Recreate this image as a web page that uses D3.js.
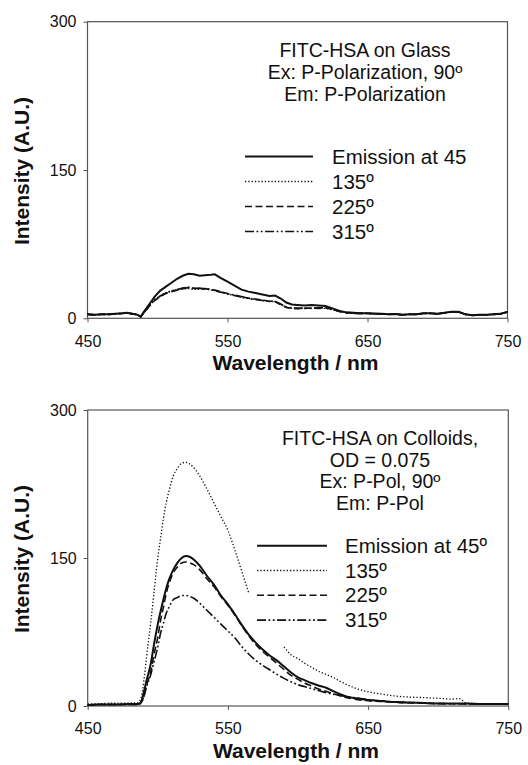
<!DOCTYPE html>
<html>
<head>
<meta charset="utf-8">
<script src="https://cdn.jsdelivr.net/npm/d3@7"></script>
<style>
  body { margin: 0; background: #fff; }
  text { font-family: "Liberation Sans", Arial, sans-serif; fill: #111; }
</style>
</head>
<body>
<svg id="chart" width="528" height="765"></svg>
<script>
// ---- data ----
let xTicks = [450, 550, 650, 750]
let yTicks = [0, 150, 300]

// top panel: FITC-HSA on glass
let glassWl = [450,455,460,465,470,475,478,482,486,488, 490,494,498,502,506,510,514,518,522,526,
  530,534,538,541,545,550,555,560,565,570, 575,580,584,588,592,596,600,605,610,615,
  620,625,630,635,640,645,650,655,660,665, 670,675,680,685,690,695,700,705,710,715,
  720,725,730,735,740,745,750]
let glass45 = [4,3.5,4,4,4.5,5,5.5,4.5,3.5,1.5, 6,14,22,28,32,36,40,43,45,44.5,
  43,43.5,44,44.5,41,37,33,29,27,25.5, 24,22.5,23,20,16,14,13.5,13,13.5,13,
  12.5,10,7.5,6,5.5,5,5.2,4.8,4.5,4, 4.3,3.5,4,4,5,5,4.5,5.5,6.5,6.5,
  4,3,3.5,3.5,4,4.5,6.5]
let glass135 = [4,3.5,4,4,4.5,5,5.5,4.5,3.5,1.5, 5.5,13,19,23,26,28,29,29.5,30,29,
  29.5,30,28.5,28,26.5,24.5,23,21,20,19, 18,17.5,16.5,13.5,11,10,9.5,10,10,10.5,
  10,8.5,7,5.5,5,5,5,4.5,4.5,4, 4.3,3.5,4,4,5,5,4.5,5.5,6.5,6.5,
  4,3,3.5,3.5,4,4.5,6.5]
let glass225 = [4,3.5,4,4,4.5,5,5.5,4.5,3.5,1.5, 5,12,18,22,25,27,28.5,30,31,30.5,
  30,30,29,28.5,27,25,23,21.5,20.5,19.5, 18.5,17,17,14,11,10,10,10,10.5,10,
  10.5,9,7,5.5,5,5,5,4.5,4.5,4, 4.3,3.5,4,4,5,5,4.5,5.5,6.5,6.5,
  4,3,3.5,3.5,4,4.5,6.5]
let glass315 = [4,3.5,4,4,4.5,5,5.5,4.5,3.5,1.5, 5,12.5,18.5,22.5,25.5,27.5,29,30.5,31.5,30,
  30.5,29.5,29.5,28,26.5,25,23.5,22,20,19, 18,17.5,17,14.5,11.5,10.5,10,10.5,10,10.5,
  11,9,7,5.5,5,5,5,4.5,4.5,4, 4.3,3.5,4,4,5,5,4.5,5.5,6.5,6.5,
  4,3,3.5,3.5,4,4.5,6.5]

// bottom panel: FITC-HSA on colloids
let colWl = [450,460,470,480,486,488,490,492,495,497, 500,502,504,506,508,511,514,517,520,523,
  526,530,535,540,545,550,555,560,565,570, 575,580,585,590,595,600,605,610,615,620,
  625,630,635,640,650,660,670,680,690,700, 710,715,720,730,740,750]
let col45 = [1,1.5,1.5,2,2,4,14,26,43,60, 83,96,108,119,128,138,145,150,152,151,
  148,142,132,123,112,103,93,82,72,64, 57,51,46,40,34,29,26,23,20.5,18.5,
  15,12,9.5,8,6,5,4,3.5,3,2.5, 2.5,2.5,2.5,2,2,2]
let col135 = [2,2.5,3,3,3.5,8,25,50,85,111, 150,170,190,206,218,233,241,246,247,245,
  241,233,220,206,192,178,158,136,114,null, null,null,null,60,52,48,43,39,35,32,
  29,25,21.5,18.5,14.5,12,10,9,8.5,7.8, 7,7.5,3,2.5,2.5,2.5]
let col225 = [1,1.5,1.5,1.5,1.5,3,10,21,35,50, 70,87,100,114,124,135,141,145,146,145,
  143,138,129,121,111,102,92,81,71,62, 55,49,43,37,31,27,23,20,17,15,
  12.5,10.5,8.5,7,5.4,4.5,3.8,3.2,2.8,2.5, 2.3,2.3,2.2,2,2,2]
let col315 = [1,1.5,1.5,1.5,1.5,3,9,19.6,32,43, 60,74,84,94,100,107.7,110,112,112,111,
  109,104,97,90,83,76,69,60,52.5,46, 41,36.5,32,28,24.5,21.5,19.5,17.5,15.5,13.5,
  12,10.5,9.5,8.5,6.5,5,4,3.5,3,2.5, 2.3,2.3,2.2,2,2,2]

let glassNotes = ["FITC-HSA on Glass", "Ex: P-Polarization, 90\u00ba", "Em: P-Polarization"]
let colNotes = ["FITC-HSA on Colloids,", "OD = 0.075", "Ex: P-Pol, 90\u00ba", "Em: P-Pol"]
let glassLabels = ["Emission at 45", "135\u00ba", "225\u00ba", "315\u00ba"]
let colLabels = ["Emission at 45\u00ba", "135\u00ba", "225\u00ba", "315\u00ba"]

// line styles for the 4 series (45, 135, 225, 315)
let styles = [
  { dash: null, w: 2 },
  { dash: "1.3,2", w: 1.3 },
  { dash: "7,3.5", w: 1.6 },
  { dash: "9,2.5,1.8,2.5,1.8,2.5", w: 1.6 }
]

let svg = d3.select("#chart")

let drawPanel = (p) => {
  let x = d3.scaleLinear().domain([450, 750]).range([p.left, p.right])
  let y = d3.scaleLinear().domain([0, 300]).range([p.bottom, p.top])

  let g = svg.append("g")

  // x axis
  let gx = g.append("g")
    .attr("transform", "translate(0," + p.bottom + ")")
    .call(d3.axisBottom(x).tickValues(xTicks).tickSize(4).tickSizeOuter(0).tickPadding(13))
  gx.select(".domain").remove()
  gx.selectAll("line").attr("stroke", "#555")
  gx.selectAll("text").attr("font-size", "16px").attr("fill", "#111")
    .style("font-family", "'Liberation Sans', Arial, sans-serif")

  // y axis
  let gy = g.append("g")
    .attr("transform", "translate(" + p.left + ",0)")
    .call(d3.axisLeft(y).tickValues(yTicks).tickSize(4).tickSizeOuter(0).tickPadding(7))
  gy.select(".domain").remove()
  gy.selectAll("line").attr("stroke", "#555")
  gy.selectAll("text").attr("font-size", "16px").attr("fill", "#111")
    .style("font-family", "'Liberation Sans', Arial, sans-serif")

  // frame
  g.append("rect")
    .attr("x", p.left).attr("y", p.top)
    .attr("width", p.right - p.left).attr("height", p.bottom - p.top)
    .attr("fill", "none").attr("stroke", "#555").attr("stroke-width", 1.2)

  // curves
  let line = d3.line()
    .defined((d) => d[1] != null)
    .x((d) => x(d[0]))
    .y((d) => y(d[1]))
    .curve(p.curve)

  p.series.forEach((vals, i) => {
    let pts = p.wl.map((w, k) => [w, vals[k]])
    g.append("path")
      .attr("d", line(pts))
      .attr("fill", "none")
      .attr("stroke", "#111")
      .attr("stroke-width", styles[i].w)
      .attr("stroke-dasharray", styles[i].dash)
  })

  // axis titles
  g.append("text")
    .attr("x", (p.left + p.right) / 2 - 2)
    .attr("y", p.bottom + 52)
    .attr("text-anchor", "middle")
    .attr("font-size", "21px").attr("font-weight", "bold")
    .text("Wavelength / nm")

  g.append("text")
    .attr("transform", "translate(29," + ((p.top + p.bottom) / 2 + 1) + ") rotate(-90)")
    .attr("text-anchor", "middle")
    .attr("font-size", "21px").attr("font-weight", "bold")
    .text("Intensity (A.U.)")

  // annotation
  p.notes.forEach((t, i) => {
    g.append("text")
      .attr("x", p.noteX)
      .attr("y", p.noteY + i * p.noteStep)
      .attr("text-anchor", "middle")
      .attr("font-size", "19.5px")
      .text(t)
  })

  // legend
  p.labels.forEach((t, i) => {
    let ly = p.legY + i * p.legStep
    g.append("line")
      .attr("x1", p.legX1).attr("x2", p.legX2)
      .attr("y1", ly).attr("y2", ly)
      .attr("stroke", "#111")
      .attr("stroke-width", styles[i].w)
      .attr("stroke-dasharray", styles[i].dash)
    g.append("text")
      .attr("x", p.legTx)
      .attr("y", ly + 7)
      .attr("font-size", "20.5px")
      .text(t)
  })
}

drawPanel({
  left: 87.5, right: 507.5, top: 21.7, bottom: 318.3,
  wl: glassWl, series: [glass45, glass135, glass225, glass315], curve: d3.curveLinear,
  notes: glassNotes, noteX: 365, noteY: 56.7, noteStep: 22,
  labels: glassLabels, legX1: 245, legX2: 313, legTx: 332, legY: 156.5, legStep: 25
})

drawPanel({
  left: 87.7, right: 508.3, top: 410, bottom: 706,
  wl: colWl, series: [col45, col135, col225, col315], curve: d3.curveMonotoneX,
  notes: colNotes, noteX: 380, noteY: 445, noteStep: 21.7,
  labels: colLabels, legX1: 257, legX2: 327, legTx: 345, legY: 545.7, legStep: 24.8
})
</script>
</body>
</html>
